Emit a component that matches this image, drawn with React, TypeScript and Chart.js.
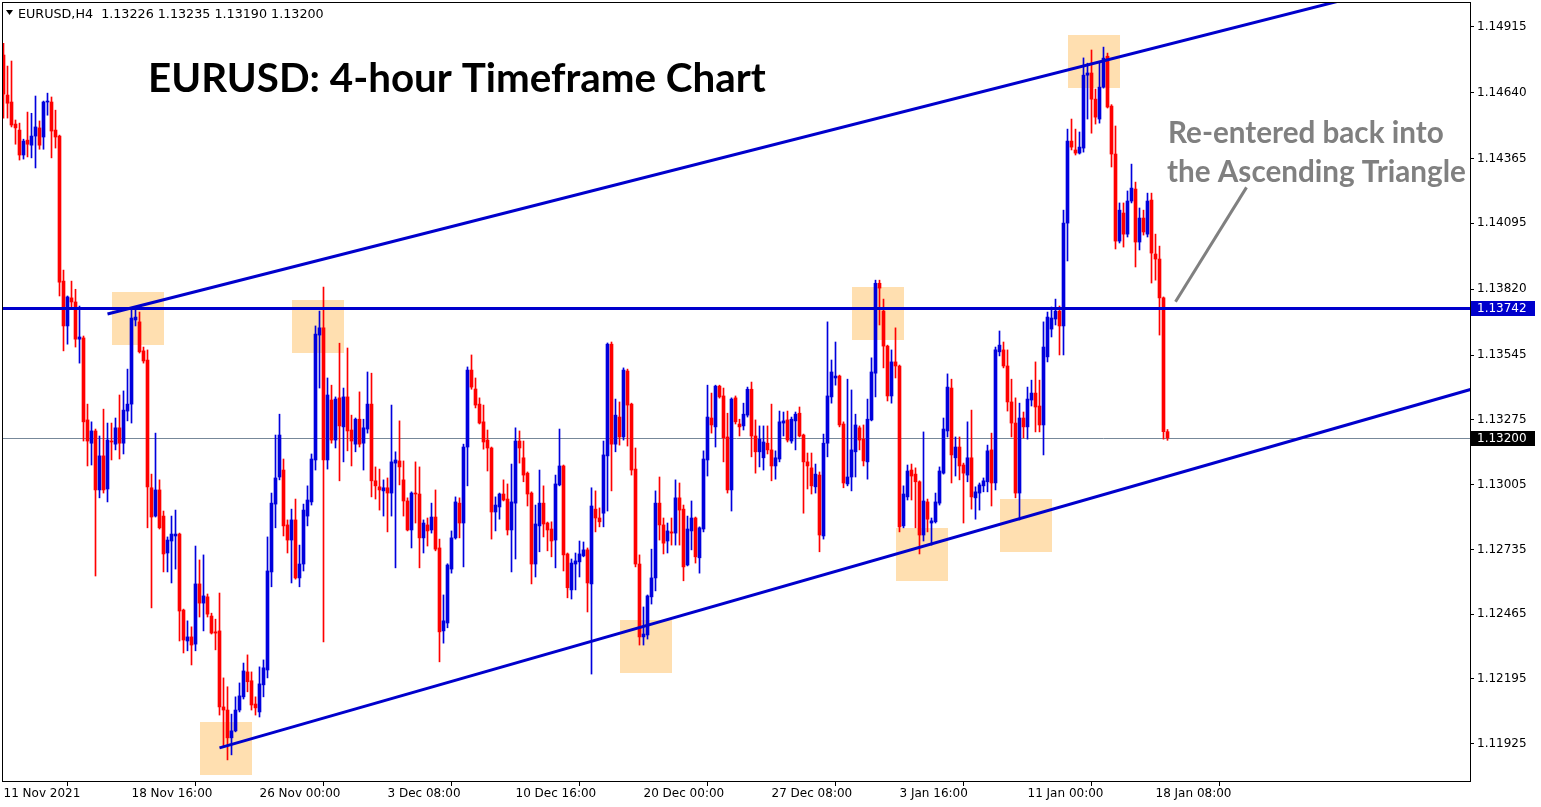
import { useEffect, useRef } from "react";
import { Chart, registerables } from "chart.js";
Chart.register(...registerables);

// ---- candle data (EURUSD H4), index 0 = 11 Nov 2021 08:00 ----
const opens = [
  1.14797, 1.1463, 1.14601, 1.14509, 1.14484, 1.1438, 1.14442, 1.14421, 1.14459, 1.14493,
  1.14455, 1.14601, 1.14601, 1.14484, 1.14459, 1.13854, 1.13667, 1.13784, 1.13767, 1.13612,
  1.13617, 1.13275, 1.13178, 1.13229, 1.12983, 1.13125, 1.12987, 1.13187, 1.13174, 1.13242,
  1.13178, 1.13312, 1.13341, 1.13692, 1.13684, 1.13563, 1.13525, 1.12992, 1.12874, 1.12983,
  1.12874, 1.1272, 1.1277, 1.12791, 1.12799, 1.12482, 1.12353, 1.1237, 1.1234, 1.12591,
  1.12511, 1.12537, 1.12457, 1.12391, 1.12395, 1.12078, 1.12065, 1.11949, 1.11978, 1.12065,
  1.1212, 1.12224, 1.12187, 1.1209, 1.12057, 1.1217, 1.12232, 1.12641, 1.12924, 1.13037,
  1.13066, 1.12837, 1.12774, 1.12858, 1.12616, 1.12674, 1.12874, 1.12933, 1.13108, 1.13629,
  1.13659, 1.13108, 1.13358, 1.13191, 1.13367, 1.13246, 1.13371, 1.13233, 1.13174, 1.13278,
  1.13178, 1.13237, 1.13341, 1.13021, 1.12996, 1.12979, 1.12992, 1.1297, 1.13095, 1.13104,
  1.13025, 1.12937, 1.12816, 1.1297, 1.12966, 1.12783, 1.12837, 1.12816, 1.1287, 1.12741,
  1.12395, 1.12428, 1.12653, 1.12783, 1.12928, 1.12845, 1.13162, 1.13483, 1.13404, 1.13341,
  1.13267, 1.13191, 1.13158, 1.12891, 1.12912, 1.12966, 1.12945, 1.12816, 1.12928, 1.13187,
  1.13117, 1.13053, 1.1297, 1.12674, 1.12833, 1.12928, 1.12845, 1.1282, 1.12774, 1.13004,
  1.13083, 1.12716, 1.12566, 1.12674, 1.12683, 1.12708, 1.12733, 1.12591, 1.12903, 1.12866,
  1.12886, 1.13125, 1.13591, 1.13174, 1.13287, 1.13204, 1.13479, 1.13341, 1.1307, 1.12674,
  1.1237, 1.12378, 1.12537, 1.12616, 1.12928, 1.12837, 1.1277, 1.12808, 1.12803, 1.1295,
  1.12903, 1.1267, 1.12812, 1.12866, 1.127, 1.1282, 1.13108, 1.13283, 1.13246, 1.13416,
  1.13375, 1.13204, 1.12983, 1.13367, 1.13258, 1.1325, 1.13295, 1.13403, 1.13208, 1.13142,
  1.13117, 1.13178, 1.1315, 1.13083, 1.13112, 1.13262, 1.13275, 1.13187, 1.13271, 1.13303,
  1.13212, 1.131, 1.13075, 1.12996, 1.13045, 1.12791, 1.13178, 1.13371, 1.1345, 1.13458,
  1.13258, 1.13008, 1.13037, 1.13142, 1.13242, 1.13195, 1.131, 1.13275, 1.1347, 1.13845,
  1.13729, 1.13583, 1.13375, 1.13517, 1.135, 1.12833, 1.12954, 1.13066, 1.13049, 1.13017,
  1.12795, 1.12933, 1.12845, 1.1285, 1.12928, 1.13053, 1.13229, 1.13408, 1.13117, 1.13162,
  1.13087, 1.13045, 1.13117, 1.1295, 1.1297, 1.13, 1.13017, 1.1315, 1.13012, 1.13559,
  1.13567, 1.135, 1.1335, 1.13262, 1.1297, 1.13283, 1.13246, 1.13358, 1.13387, 1.13333,
  1.13254, 1.13538, 1.13654, 1.13696, 1.13729, 1.13667, 1.14096, 1.14438, 1.14401, 1.14388,
  1.14409, 1.14713, 1.14722, 1.14613, 1.1453, 1.14663, 1.14792, 1.14584, 1.14384, 1.14021,
  1.14138, 1.1405, 1.14188, 1.14238, 1.14017, 1.14117, 1.1405, 1.14192, 1.13967, 1.13946,
  1.13784, 1.13226,
];
const highs = [
  1.14846, 1.14751, 1.14772, 1.14526, 1.14513, 1.14446, 1.14559, 1.14554, 1.14626, 1.14522,
  1.14605, 1.14638, 1.14622, 1.14567, 1.14463, 1.139, 1.13792, 1.13854, 1.1382, 1.1375,
  1.13625, 1.13341, 1.13267, 1.13237, 1.13208, 1.1332, 1.13262, 1.13262, 1.13283, 1.13379,
  1.13396, 1.13487, 1.13737, 1.13742, 1.13725, 1.13579, 1.13567, 1.13049, 1.1322, 1.13025,
  1.12895, 1.12787, 1.12874, 1.12899, 1.12803, 1.12486, 1.12437, 1.12412, 1.12749, 1.12691,
  1.12712, 1.12549, 1.12469, 1.12444, 1.12553, 1.12199, 1.12162, 1.12048, 1.1212, 1.12178,
  1.12261, 1.12295, 1.12224, 1.1212, 1.12245, 1.12274, 1.12787, 1.1297, 1.13212, 1.13299,
  1.13112, 1.12858, 1.12903, 1.12945, 1.12753, 1.12924, 1.13, 1.13133, 1.13667, 1.13729,
  1.13829, 1.1345, 1.1342, 1.13371, 1.13595, 1.13408, 1.13575, 1.13295, 1.13283, 1.13392,
  1.13278, 1.13475, 1.1347, 1.13079, 1.1307, 1.13025, 1.13033, 1.13337, 1.13142, 1.13271,
  1.13104, 1.1295, 1.12975, 1.131, 1.13079, 1.12858, 1.12866, 1.12928, 1.12983, 1.12778,
  1.12545, 1.12675, 1.12812, 1.12954, 1.1295, 1.13174, 1.13496, 1.13546, 1.1345, 1.13367,
  1.13337, 1.13233, 1.13162, 1.12954, 1.1297, 1.13025, 1.13008, 1.13091, 1.13242, 1.13229,
  1.13187, 1.13058, 1.12975, 1.1292, 1.13066, 1.13, 1.12849, 1.1285, 1.13045, 1.13237,
  1.13087, 1.1272, 1.12695, 1.1272, 1.1277, 1.12766, 1.12741, 1.12992, 1.12979, 1.12908,
  1.13187, 1.13596, 1.136, 1.13362, 1.1335, 1.13492, 1.13487, 1.13345, 1.13158, 1.12712,
  1.12495, 1.12545, 1.12736, 1.12979, 1.13037, 1.12866, 1.12845, 1.12866, 1.13025, 1.13012,
  1.1292, 1.12874, 1.12937, 1.1287, 1.12829, 1.13146, 1.1342, 1.13387, 1.1342, 1.1342,
  1.13408, 1.13303, 1.13367, 1.13375, 1.13278, 1.13345, 1.13412, 1.13433, 1.13275, 1.1325,
  1.1325, 1.1325, 1.13341, 1.13146, 1.13312, 1.13308, 1.13312, 1.13287, 1.13308, 1.13329,
  1.13216, 1.13137, 1.13137, 1.13091, 1.13058, 1.13216, 1.13684, 1.13525, 1.136, 1.13462,
  1.13267, 1.13445, 1.134, 1.13299, 1.1325, 1.13254, 1.13362, 1.13534, 1.13858, 1.13858,
  1.13779, 1.13587, 1.13567, 1.13659, 1.13504, 1.13, 1.13087, 1.13091, 1.13075, 1.13021,
  1.13225, 1.12945, 1.12866, 1.1297, 1.13079, 1.13283, 1.13467, 1.13445, 1.13204, 1.13204,
  1.13095, 1.13267, 1.13316, 1.12996, 1.13012, 1.13033, 1.1317, 1.1322, 1.13579, 1.13646,
  1.136, 1.13567, 1.13445, 1.13367, 1.13345, 1.13308, 1.13412, 1.13441, 1.13517, 1.13441,
  1.13684, 1.13725, 1.13746, 1.13779, 1.1375, 1.1415, 1.14488, 1.1453, 1.14488, 1.14476,
  1.14785, 1.14763, 1.14818, 1.14655, 1.14763, 1.1483, 1.14805, 1.1459, 1.14501, 1.1418,
  1.1418, 1.1423, 1.14342, 1.14267, 1.14159, 1.1415, 1.14221, 1.14221, 1.1405, 1.14,
  1.13788, 1.13235,
];
const lows = [
  1.14534, 1.14534, 1.14497, 1.14425, 1.14359, 1.14363, 1.14372, 1.14368, 1.14326, 1.14404,
  1.14404, 1.14546, 1.14368, 1.14409, 1.13792, 1.13563, 1.13591, 1.13746, 1.13579, 1.13512,
  1.13187, 1.13083, 1.13087, 1.12624, 1.1295, 1.1297, 1.12933, 1.13108, 1.1315, 1.13112,
  1.13133, 1.13271, 1.13262, 1.13667, 1.13554, 1.13512, 1.12825, 1.12491, 1.1287, 1.1282,
  1.12641, 1.12641, 1.12595, 1.12653, 1.12353, 1.12303, 1.12312, 1.12253, 1.12312, 1.12453,
  1.12395, 1.12453, 1.12382, 1.12316, 1.12044, 1.11915, 1.11857, 1.11878, 1.11974, 1.12057,
  1.12111, 1.12141, 1.12065, 1.12044, 1.12036, 1.1212, 1.12199, 1.12579, 1.12825, 1.13025,
  1.12791, 1.1272, 1.12595, 1.12611, 1.12579, 1.12645, 1.12833, 1.1292, 1.13066, 1.13408,
  1.12349, 1.1307, 1.13178, 1.13158, 1.13021, 1.131, 1.13146, 1.13083, 1.13142, 1.13162,
  1.13066, 1.1322, 1.12954, 1.12945, 1.12899, 1.12874, 1.12808, 1.12874, 1.12658, 1.13004,
  1.12874, 1.12812, 1.12741, 1.12845, 1.12658, 1.1272, 1.12749, 1.12803, 1.12729, 1.12266,
  1.12344, 1.12408, 1.12636, 1.12778, 1.12783, 1.12662, 1.13, 1.13403, 1.13325, 1.13258,
  1.13153, 1.13062, 1.12778, 1.12812, 1.12861, 1.12937, 1.12795, 1.12641, 1.12695, 1.13095,
  1.13017, 1.12916, 1.12591, 1.1262, 1.12725, 1.12787, 1.12729, 1.12704, 1.12658, 1.13,
  1.12645, 1.12533, 1.12528, 1.12566, 1.1262, 1.12704, 1.12474, 1.12215, 1.12808, 1.12829,
  1.12829, 1.12895, 1.12979, 1.13142, 1.1317, 1.13191, 1.13166, 1.13045, 1.12662, 1.12336,
  1.12336, 1.12361, 1.12507, 1.12562, 1.12774, 1.12716, 1.1272, 1.12753, 1.12753, 1.12753,
  1.12604, 1.12666, 1.12733, 1.12678, 1.12636, 1.12808, 1.13041, 1.1322, 1.13162, 1.13366,
  1.131, 1.1297, 1.12895, 1.13258, 1.13208, 1.13233, 1.13287, 1.13121, 1.13053, 1.13079,
  1.13066, 1.13133, 1.13021, 1.13028, 1.131, 1.13208, 1.13183, 1.13178, 1.1315, 1.13204,
  1.12886, 1.12987, 1.12966, 1.1297, 1.12725, 1.12778, 1.13121, 1.13345, 1.1342, 1.13246,
  1.12992, 1.13, 1.12979, 1.13037, 1.1315, 1.13083, 1.13028, 1.13271, 1.13371, 1.13671,
  1.13492, 1.13354, 1.13345, 1.1345, 1.12808, 1.12825, 1.12941, 1.12941, 1.12825, 1.12716,
  1.1277, 1.12808, 1.12753, 1.12845, 1.1292, 1.13049, 1.13204, 1.13012, 1.13041, 1.13025,
  1.12845, 1.13017, 1.12903, 1.12861, 1.12899, 1.12975, 1.12975, 1.12916, 1.12983, 1.13542,
  1.13492, 1.13312, 1.13204, 1.1295, 1.12858, 1.132, 1.13195, 1.13333, 1.13225, 1.13225,
  1.13129, 1.13517, 1.13621, 1.13671, 1.13546, 1.13546, 1.13938, 1.14401, 1.1438, 1.14384,
  1.14392, 1.1453, 1.14471, 1.14509, 1.14513, 1.14659, 1.14576, 1.1433, 1.13988, 1.14013,
  1.13996, 1.14038, 1.1418, 1.13913, 1.13984, 1.14046, 1.14038, 1.13846, 1.13858, 1.13629,
  1.13195, 1.1319,
];
const closes = [
  1.14634, 1.14596, 1.14505, 1.14493, 1.1438, 1.14438, 1.14425, 1.14459, 1.14497, 1.14421,
  1.14601, 1.14605, 1.1448, 1.14455, 1.1385, 1.13667, 1.13788, 1.13767, 1.13612, 1.13621,
  1.13267, 1.13187, 1.13229, 1.12983, 1.13125, 1.12983, 1.13191, 1.13183, 1.13242, 1.13178,
  1.13316, 1.13341, 1.137, 1.13704, 1.13559, 1.13521, 1.12996, 1.1287, 1.12983, 1.12825,
  1.12716, 1.12774, 1.12799, 1.12799, 1.12478, 1.12357, 1.1237, 1.12336, 1.12591, 1.12511,
  1.12541, 1.12465, 1.12386, 1.12386, 1.12078, 1.12065, 1.11949, 1.11978, 1.12065, 1.12124,
  1.12228, 1.12183, 1.12086, 1.12074, 1.12174, 1.12241, 1.12645, 1.12928, 1.13033, 1.13212,
  1.12833, 1.12774, 1.12858, 1.12616, 1.12674, 1.12899, 1.12941, 1.13112, 1.13633, 1.13659,
  1.13108, 1.13379, 1.13191, 1.13362, 1.1325, 1.13371, 1.13229, 1.13187, 1.13278, 1.13174,
  1.13242, 1.13341, 1.13021, 1.13, 1.12983, 1.12992, 1.1297, 1.131, 1.13108, 1.13079,
  1.12937, 1.12816, 1.1297, 1.12966, 1.12783, 1.12845, 1.12812, 1.1287, 1.12736, 1.12391,
  1.12437, 1.1267, 1.12783, 1.12933, 1.12845, 1.13162, 1.13483, 1.13412, 1.13337, 1.13262,
  1.13183, 1.13158, 1.12891, 1.1292, 1.12966, 1.12941, 1.12816, 1.12933, 1.13187, 1.13158,
  1.13045, 1.12966, 1.12674, 1.12841, 1.12928, 1.12841, 1.12816, 1.1277, 1.13008, 1.13083,
  1.12712, 1.12575, 1.12678, 1.12687, 1.12716, 1.12733, 1.12595, 1.12916, 1.12866, 1.1285,
  1.13129, 1.13591, 1.13174, 1.13295, 1.13204, 1.13483, 1.13337, 1.13066, 1.12674, 1.1237,
  1.12382, 1.12541, 1.12616, 1.12928, 1.12837, 1.12761, 1.12812, 1.12803, 1.1295, 1.12899,
  1.12662, 1.1282, 1.12866, 1.12704, 1.12825, 1.13112, 1.13287, 1.13254, 1.13416, 1.13371,
  1.132, 1.12983, 1.13362, 1.13267, 1.13246, 1.13299, 1.13403, 1.13208, 1.13142, 1.13195,
  1.13183, 1.1315, 1.13083, 1.13117, 1.13267, 1.13271, 1.13191, 1.13278, 1.13299, 1.13208,
  1.131, 1.13083, 1.13, 1.13049, 1.12795, 1.13178, 1.13375, 1.13475, 1.13458, 1.13254,
  1.13012, 1.13037, 1.1315, 1.13254, 1.13191, 1.13104, 1.13278, 1.13475, 1.13845, 1.13825,
  1.13583, 1.13375, 1.13517, 1.135, 1.12829, 1.12966, 1.13062, 1.13041, 1.13017, 1.12795,
  1.12937, 1.12861, 1.12854, 1.12933, 1.13062, 1.13237, 1.13412, 1.13129, 1.13162, 1.13083,
  1.13053, 1.13117, 1.12954, 1.12975, 1.13004, 1.13021, 1.13146, 1.13012, 1.13567, 1.13587,
  1.135, 1.1335, 1.13262, 1.1297, 1.13283, 1.13246, 1.13362, 1.13387, 1.13329, 1.13254,
  1.13579, 1.13704, 1.137, 1.13729, 1.13667, 1.14096, 1.14438, 1.14413, 1.14388, 1.14413,
  1.14713, 1.14722, 1.14613, 1.14538, 1.14663, 1.14784, 1.1458, 1.14384, 1.14021, 1.1415,
  1.1405, 1.14188, 1.14242, 1.14017, 1.14117, 1.14059, 1.14188, 1.13971, 1.13946, 1.13784,
  1.13226, 1.132,
];

// ---- axes ----
const xTickIndex = [0, 32, 64, 96, 128, 160, 192, 224, 256, 288];
const xTickLabels = [
  "11 Nov 2021", "18 Nov 16:00", "26 Nov 00:00", "3 Dec 08:00", "10 Dec 16:00",
  "20 Dec 00:00", "27 Dec 08:00", "3 Jan 16:00", "11 Jan 00:00", "18 Jan 08:00",
];
const yTickValues = [
  1.14915, 1.1464, 1.14365, 1.14095, 1.1382, 1.13545, 1.13275, 1.13005, 1.12735, 1.12465, 1.12195, 1.11925,
];

// ---- drawn objects (bar index, price) ----
const resistanceLevel = 1.13742;
const bidPrice = 1.132;
const upperTrend = [[26, 1.13717], [335, 1.15027]];
const lowerTrend = [[54, 1.11907], [368, 1.13408]];
const pointerLine = [[293, 1.13768], [310.75, 1.14245]];
const zoneStart = [27, 72, 212, 266, 49, 154, 223, 249];
const zoneEnd = [40, 85, 225, 279, 62, 167, 236, 262];
const zoneTop = [1.13808, 1.13775, 1.13829, 1.1488, 1.12015, 1.12441, 1.12824, 1.12945];
const zoneBottom = [1.13587, 1.13554, 1.13608, 1.14659, 1.11794, 1.1222, 1.12603, 1.12724];

const headerText = "EURUSD,H4  1.13226 1.13235 1.13190 1.13200";
const titleText = "EURUSD: 4-hour Timeframe Chart";
const noteLines = ["Re-entered back into", "the Ascending Triangle"];

const BULL = "#0000DD";
const BEAR = "#FF0000";
const LINE_BLUE = "#0000CC";
const ZONE = "#FFDFB0";
const AXIS_FONT = "DejaVu Sans";

function fitFont(ctx: CanvasRenderingContext2D, text: string, family: string, weight: string, width: number) {
  ctx.font = `${weight} 100px ${family}`;
  const w = ctx.measureText(text).width;
  return (100 * width) / w;
}

const overlay = {
  id: "overlay",
  beforeDatasetsDraw(chart: any) {
    const { ctx, chartArea: a, scales } = chart;
    const x = scales.x, y = scales.y;
    ctx.save();
    ctx.beginPath();
    ctx.rect(a.left, a.top, a.right - a.left, a.bottom - a.top);
    ctx.clip();
    ctx.fillStyle = ZONE;
    for (let i = 0; i < zoneStart.length; i++) {
      const x1 = Math.round(x.getPixelForValue(zoneStart[i]));
      const x2 = Math.round(x.getPixelForValue(zoneEnd[i]));
      const y1 = Math.round(y.getPixelForValue(zoneTop[i]));
      const y2 = Math.round(y.getPixelForValue(zoneBottom[i]));
      ctx.fillRect(x1, y1, x2 - x1, y2 - y1);
    }
    const by = Math.round(y.getPixelForValue(bidPrice)) + 0.5;
    ctx.strokeStyle = "#778899";
    ctx.lineWidth = 1;
    ctx.beginPath();
    ctx.moveTo(a.left, by);
    ctx.lineTo(a.right, by);
    ctx.stroke();
    ctx.restore();
  },
  afterDatasetsDraw(chart: any) {
    const { ctx, chartArea: a, scales } = chart;
    const x = scales.x, y = scales.y;
    ctx.save();
    ctx.beginPath();
    ctx.rect(a.left, a.top, a.right - a.left, a.bottom - a.top);
    ctx.clip();
    const seg = (p: number[][], color: string, w: number) => {
      ctx.strokeStyle = color;
      ctx.lineWidth = w;
      ctx.beginPath();
      ctx.moveTo(x.getPixelForValue(p[0][0]), y.getPixelForValue(p[0][1]));
      ctx.lineTo(x.getPixelForValue(p[1][0]), y.getPixelForValue(p[1][1]));
      ctx.stroke();
    };
    seg(upperTrend, LINE_BLUE, 3);
    seg(lowerTrend, LINE_BLUE, 3);
    const ry = Math.round(y.getPixelForValue(resistanceLevel)) + 0.5;
    ctx.strokeStyle = LINE_BLUE;
    ctx.lineWidth = 3;
    ctx.beginPath();
    ctx.moveTo(a.left, ry);
    ctx.lineTo(a.right, ry);
    ctx.stroke();
    seg(pointerLine, "#808080", 3);
    ctx.restore();
  },
  afterDraw(chart: any) {
    const { ctx, chartArea: a, scales } = chart;
    const y = scales.y;
    ctx.save();
    // frame
    ctx.strokeStyle = "#000";
    ctx.lineWidth = 1;
    ctx.strokeRect(a.left - 0.5, a.top - 0.5, a.right - a.left + 1, a.bottom - a.top + 1);
    // price boxes
    ctx.font = `12px ${AXIS_FONT}`;
    ctx.textBaseline = "middle";
    ctx.textAlign = "left";
    const box = (v: number, bg: string) => {
      const py = Math.round(y.getPixelForValue(v));
      ctx.fillStyle = bg;
      ctx.fillRect(a.right + 1, py - 7, 64, 15);
      ctx.fillStyle = "#fff";
      ctx.fillText(v.toFixed(5), a.right + 7, py + 1);
    };
    box(resistanceLevel, LINE_BLUE);
    box(bidPrice, "#000");
    // header
    ctx.fillStyle = "#000";
    ctx.beginPath();
    ctx.moveTo(6, 10);
    ctx.lineTo(13, 10);
    ctx.lineTo(9.5, 15);
    ctx.closePath();
    ctx.fill();
    const hs = fitFont(ctx, headerText, AXIS_FONT, "normal", 306);
    ctx.font = `${hs}px ${AXIS_FONT}`;
    ctx.textBaseline = "alphabetic";
    ctx.fillText(headerText, 18, 18);
    // title
    const ts = fitFont(ctx, titleText, "Lato", "bold", 618);
    ctx.font = `bold ${ts}px Lato`;
    ctx.fillStyle = "#000";
    ctx.fillText(titleText, 148, 92);
    // note
    const ns = fitFont(ctx, noteLines[1], "Lato", "bold", 299);
    ctx.font = `bold ${ns}px Lato`;
    ctx.fillStyle = "#808080";
    ctx.fillText(noteLines[0], 1168, 143);
    ctx.fillText(noteLines[1], 1167, 182);
    ctx.restore();
  },
};

export default function App() {
  const ref = useRef<HTMLCanvasElement | null>(null);
  useEffect(() => {
    document.body.style.margin = "0";
    const canvas = ref.current;
    if (!canvas) return;
    const idx = opens.map((_, i) => i);
    const colors = idx.map((i) => (closes[i] >= opens[i] ? BULL : BEAR));
    const chart = new Chart(canvas, {
      type: "bar",
      data: {
        datasets: [
          {
            data: idx.map((i) => ({ x: i, y: [opens[i], closes[i]] })) as any,
            backgroundColor: colors,
            barThickness: 3,
            minBarLength: 1,
            grouped: false,
            borderWidth: 0,
            order: 1,
          },
          {
            data: idx.map((i) => ({ x: i, y: [lows[i], highs[i]] })) as any,
            backgroundColor: colors,
            barThickness: 1,
            grouped: false,
            borderWidth: 0,
            order: 2,
          },
        ],
      },
      options: {
        animation: false,
        responsive: false,
        devicePixelRatio: 1,
        events: [],
        layout: { padding: { left: 3, top: 3, right: 0, bottom: 0 } },
        plugins: { legend: { display: false }, tooltip: { enabled: false } },
        scales: {
          x: {
            type: "linear",
            min: -0.125,
            max: 366.625,
            offset: false,
            afterFit: (s: any) => {
              s.height = 26;
              s.paddingLeft = 0;
              s.paddingRight = 0;
            },
            afterBuildTicks: (s: any) => { s.ticks = xTickIndex.map((v) => ({ value: v })); },
            ticks: {
              autoSkip: false,
              maxRotation: 0,
              minRotation: 0,
              align: "start",
              padding: 1,
              color: "#000",
              font: { family: AXIS_FONT, size: 12 },
              callback: (v: any) => xTickLabels[xTickIndex.indexOf(Number(v))] ?? "",
            },
            grid: { display: true, drawOnChartArea: false, drawTicks: true, tickLength: 5, color: "#000" },
            border: { display: false },
          },
          y: {
            type: "linear",
            position: "right",
            min: 1.11769,
            max: 1.15014,
            afterFit: (s: any) => {
              s.width = 71;
              s.paddingTop = 0;
              s.paddingBottom = 0;
            },
            afterBuildTicks: (s: any) => { s.ticks = yTickValues.map((v) => ({ value: v })); },
            ticks: {
              padding: 3,
              color: "#000",
              font: { family: AXIS_FONT, size: 12 },
              callback: (v: any) => Number(v).toFixed(5),
            },
            grid: { display: true, drawOnChartArea: false, drawTicks: true, tickLength: 4, color: "#000" },
            border: { display: false },
          },
        },
      } as any,
      plugins: [overlay],
    });
    return () => chart.destroy();
  }, []);
  return (
    <div style={{ width: 1541, height: 807, background: "#fff" }}>
      <canvas ref={ref} width={1541} height={807} style={{ display: "block" }} />
    </div>
  );
}
